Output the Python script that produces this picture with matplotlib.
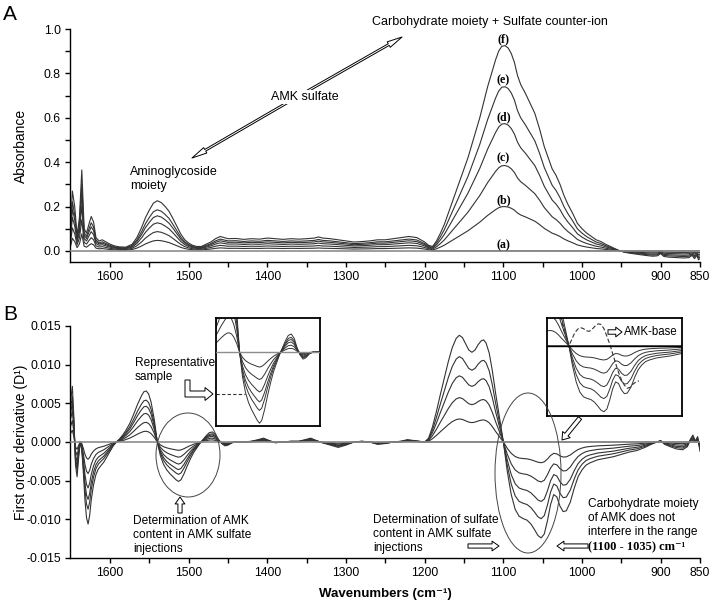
import numpy as np
import matplotlib.pyplot as plt
from matplotlib.patches import Ellipse, FancyArrowPatch, Polygon
from matplotlib.transforms import Affine2D

plt.rcParams['font.family'] = ['Liberation Sans', 'DejaVu Sans']
plt.rcParams['axes.unicode_minus'] = False

# ---- panel A: absorbance, strongest sample ----
# aminoglycoside side (1650 -> 1195 cm-1)
wn_left_a = [1650, 1648, 1645, 1642, 1639, 1636, 1633, 1630, 1627, 1624, 1621, 1618, 1614,
             1610, 1605, 1600, 1594, 1588, 1580, 1572, 1566, 1560, 1555, 1550, 1545, 1540,
             1535, 1530, 1525, 1520, 1515, 1510, 1505, 1500, 1495, 1490, 1484, 1478, 1472,
             1466, 1460, 1455, 1450, 1440, 1430, 1420, 1410, 1400, 1390, 1380, 1370, 1360,
             1350, 1340, 1335, 1330, 1320, 1310, 1300, 1290, 1280, 1270, 1260, 1250, 1240,
             1230, 1220, 1210, 1200, 1195]
abs_left = [0.12, 0.27, 0.20, 0.07, 0.15, 0.365, 0.10, 0.08, 0.12, 0.155, 0.13, 0.06, 0.045,
            0.05, 0.04, 0.03, 0.022, 0.018, 0.017, 0.03, 0.06, 0.105, 0.15, 0.185, 0.215, 0.226,
            0.218, 0.20, 0.178, 0.145, 0.11, 0.075, 0.05, 0.035, 0.025, 0.02, 0.02, 0.03, 0.04,
            0.055, 0.065, 0.06, 0.055, 0.056, 0.052, 0.055, 0.053, 0.058, 0.055, 0.052, 0.055, 0.053,
            0.055, 0.058, 0.063, 0.058, 0.055, 0.05, 0.045, 0.04, 0.042, 0.045, 0.05, 0.05, 0.055,
            0.06, 0.065, 0.06, 0.04, 0.025]
# carbohydrate + sulfate side (1190 -> 850 cm-1)
wn_right_a = [1190, 1185, 1180, 1175, 1170, 1165, 1160, 1155, 1150, 1145, 1140, 1135, 1130,
              1125, 1120, 1115, 1110, 1106, 1102, 1098, 1094, 1090, 1086, 1082, 1078, 1072,
              1066, 1060, 1054, 1048, 1043, 1038, 1033, 1028, 1023, 1018, 1012, 1006, 1000,
              994, 988, 982, 976, 970, 964, 958, 952, 946, 940, 930, 920, 910, 904, 900, 896,
              890, 880, 870, 864, 860, 857, 854, 852, 850]
abs_right = [0.02, 0.045, 0.08, 0.12, 0.17, 0.22, 0.27, 0.32, 0.37, 0.42, 0.48, 0.54, 0.60,
             0.67, 0.74, 0.80, 0.86, 0.90, 0.922, 0.925, 0.915, 0.89, 0.85, 0.79, 0.75, 0.71,
             0.665, 0.62, 0.55, 0.47, 0.42, 0.37, 0.34, 0.30, 0.25, 0.21, 0.17, 0.125, 0.10,
             0.08, 0.065, 0.05, 0.042, 0.03, 0.02, 0.01, 0.0, -0.006, -0.01, -0.015, -0.02, -0.024,
             -0.022, -0.012, -0.025, -0.028, -0.03, -0.032, -0.03, -0.02, -0.035, -0.02, -0.04, -0.035]

# ---- panel B: first derivative, strongest sample ----
wn_left_b = [1650, 1648, 1646, 1644, 1642, 1640, 1638, 1636, 1634, 1632, 1630, 1628, 1626,
             1624, 1621, 1618, 1615, 1612, 1608, 1604, 1600, 1596, 1592, 1588, 1584, 1580,
             1575, 1570, 1565, 1560, 1557, 1554, 1551, 1548, 1544, 1540, 1536, 1532, 1528,
             1524, 1520, 1516, 1513, 1510, 1506, 1502, 1498, 1494, 1490, 1486, 1482, 1478,
             1474, 1470, 1466, 1462, 1458, 1454, 1450, 1445, 1440, 1430, 1420, 1412, 1405,
             1398, 1390, 1380, 1370, 1360, 1352, 1345, 1338, 1330, 1320, 1310, 1300, 1290,
             1280, 1270, 1260, 1250, 1240, 1230, 1222, 1215, 1208, 1200]
d1_left = [0.0055, 0.0072, 0.003, -0.003, -0.0045, -0.002, 0.0, -0.001, -0.004, -0.0075,
           -0.0098, -0.0106, -0.0095, -0.0075, -0.0055, -0.0042, -0.0035, -0.0031, -0.0026,
           -0.0019, -0.0012, -0.0005, 0.0, 0.0004, 0.0009, 0.0015, 0.0024, 0.0036, 0.0049,
           0.006, 0.0065, 0.0066, 0.0062, 0.0052, 0.003, 0.0, -0.0018, -0.0029, -0.0036,
           -0.0041, -0.0045, -0.0049, -0.0051, -0.0049, -0.0041, -0.0031, -0.0022, -0.0014,
           -0.0008, -0.0002, 0.0003, 0.0008, 0.0012, 0.0013, 0.001, 0.0003, -0.0002, -0.0005,
           -0.0004, -0.0001, 0.0, 0.0, 0.0001, 0.0003, 0.0005, 0.0002, -0.0001, 0.0, 0.0001,
           0.0001, 0.0003, 0.0005, 0.0002, -0.0001, -0.0004, -0.0007, -0.0004, 0.0, 0.0001,
           0.0, -0.0003, -0.0002, 0.0, 0.0001, 0.0003, 0.0002, 0.0001, 0.0]
wn_right_b = [1195, 1190, 1185, 1180, 1175, 1170, 1165, 1160, 1156, 1152, 1148, 1144, 1140,
              1136, 1132, 1128, 1125, 1122, 1118, 1114, 1110, 1105, 1100, 1095, 1090, 1085,
              1080, 1075, 1070, 1065, 1060, 1056, 1052, 1048, 1044, 1040, 1036, 1032, 1028,
              1024, 1020, 1015, 1010, 1005, 1000, 995, 990, 980, 970, 960, 950, 940, 930, 920,
              912, 905, 900, 895, 888, 880, 872, 866, 862, 859, 856, 853, 850]
d1_right = [0.0005, 0.002, 0.004, 0.0062, 0.0083, 0.0104, 0.0122, 0.0134, 0.0138, 0.0135,
            0.0127, 0.0119, 0.0116, 0.0119, 0.0126, 0.0131, 0.0132, 0.0128, 0.0115, 0.0092,
            0.0064, 0.0032, 0.0, -0.0038, -0.0068, -0.0087, -0.0096, -0.0099, -0.0101, -0.0106,
            -0.0114, -0.0121, -0.0124, -0.0119, -0.0102, -0.0081, -0.0068, -0.0071, -0.0083,
            -0.009, -0.0089, -0.0078, -0.006, -0.0045, -0.0036, -0.003, -0.0027, -0.0023,
            -0.0021, -0.0019, -0.0016, -0.0013, -0.0011, -0.0007, -0.0003, 0.0, 0.0002, -0.0003,
            -0.0006, -0.0009, -0.001, -0.0006, 0.0004, 0.0009, 0.0001, 0.0007, -0.0012]

# AMK-base derivative (dashed, right inset)
amk_base_wn = [1112, 1106, 1100, 1096, 1092, 1088, 1084, 1080, 1076, 1072, 1068, 1064, 1060,
               1056, 1052, 1048, 1044, 1040, 1036, 1032, 1028, 1024, 1020, 1016, 1012, 1008, 1004]
amk_base_d1 = [0.0056, 0.0025, 0.0, 0.0012, 0.0024, 0.0031, 0.0034, 0.0032, 0.0028, 0.0027,
               0.0031, 0.0037, 0.0041, 0.004, 0.0032, 0.0018, 0.0003, -0.0015, -0.0033, -0.005,
               -0.0064, -0.0074, -0.008, -0.0078, -0.0072, -0.0068, -0.0066]

# relative level of each sample: (a) flat baseline, then increasing AMK sulfate
amide_amp = [0, 0.21, 0.385, 0.56, 0.70, 0.82, 1.0]
sulfate_amp = [0, 0, 0.216, 0.416, 0.62, 0.80, 1.0]
peak_labels = ['(a)', '(b)', '(c)', '(d)', '(e)', '(f)']
peak_label_y = [0.027, 0.230, 0.417, 0.601, 0.771, 0.954]

xticks = list(range(1600, 849, -50))
xticklabels = [str(t) if t % 100 == 0 or t == 850 else '' for t in xticks]

W, H = 714, 605
fig = plt.figure(figsize=(W / 100, H / 100), dpi=100)
px = Affine2D().scale(1 / W, -1 / H).translate(0, 1) + fig.transFigure


def axes_px(l, t, r, b):
    return fig.add_axes([l / W, 1 - b / H, (r - l) / W, (b - t) / H])


def spectra(left, right, i):
    return np.concatenate([amide_amp[i] * np.array(left), sulfate_amp[i] * np.array(right)])


wn_a = np.array(wn_left_a + wn_right_a)
wn_b = np.array(wn_left_b + wn_right_b)


def draw_curves(ax, wn, left, right, lw=0.8, base_color='#8c8c8c', base_lw=1.2):
    for i in range(1, len(amide_amp)):
        ax.plot(wn, spectra(left, right, i), color='#333333', lw=lw)
    ax.plot(wn, spectra(left, right, 0), color=base_color, lw=base_lw, zorder=3)


def style_main(ax):
    for s in ['top', 'right']:
        ax.spines[s].set_visible(False)
    for s in ['left', 'bottom']:
        ax.spines[s].set_linewidth(1.0)
    ax.set_xlim(1651, 850)
    ax.set_xticks(xticks)
    ax.set_xticklabels(xticklabels)
    ax.tick_params(direction='out', length=3.5, width=1, labelsize=8.8, pad=3)
    ax.tick_params(which='minor', direction='out', length=3.5, width=1)
    ax.yaxis.set_label_coords(-0.066, 0.5)


# ---- A ----
ax_a = axes_px(70, 29, 700, 262)
draw_curves(ax_a, wn_a, abs_left, abs_right)
style_main(ax_a)
ax_a.set_ylim(-0.05, 1.0)
ax_a.set_yticks(np.arange(0, 1.01, 0.2))
ax_a.set_yticks(np.arange(0.1, 1.0, 0.2), minor=True)
ax_a.set_yticklabels(['%.1f' % v for v in np.arange(0, 1.01, 0.2)])
ax_a.set_ylabel('Absorbance', fontsize=10)
for lab, y in zip(peak_labels, peak_label_y):
    ax_a.text(1100, y, lab, ha='center', va='center', fontsize=8.6,
              family=['Liberation Serif', 'DejaVu Serif'], weight='bold')

# ---- B ----
ax_b = axes_px(70, 326, 700, 558)
draw_curves(ax_b, wn_b, d1_left, d1_right)
style_main(ax_b)
ax_b.set_ylim(-0.015, 0.015)
ax_b.set_yticks(np.arange(-0.015, 0.0151, 0.005))
ax_b.set_yticklabels(['%.3f' % v if abs(v) > 1e-9 else '0.000'
                      for v in np.arange(-0.015, 0.0151, 0.005)])
ax_b.set_ylabel('First order derivative (D\u00b9)', fontsize=10)
ax_b.set_xlabel('Wavenumbers (cm\u207b\u00b9)', fontsize=9.5, weight='bold')
ax_b.xaxis.set_label_coords(0.5, -0.13)

# ---- insets ----
ax_i1 = axes_px(216, 318, 320, 426)
draw_curves(ax_i1, wn_b, d1_left, d1_right, lw=0.7, base_color='#8c8c8c', base_lw=1.0)
ax_i1.set_xlim(1572, 1431)
ax_i1.set_ylim(-0.0053, 0.00245)
ax_i1.axhline(-0.003, xmin=0, xmax=0.28, color='#333333', lw=0.8, ls=(0, (3, 2)))

ax_i2 = axes_px(547, 318, 682, 416)
draw_curves(ax_i2, wn_b, d1_left, d1_right, lw=0.7, base_color='black', base_lw=1.0)
ax_i2.plot(amk_base_wn, amk_base_d1, color='#333333', lw=0.8, ls=(0, (4, 2)))
ax_i2.set_xlim(1130, 945)
ax_i2.set_ylim(-0.0132, 0.0052)

for ax in (ax_i1, ax_i2):
    ax.set_xticks([])
    ax.set_yticks([])
    for s in ax.spines.values():
        s.set_linewidth(1.3)


# ---- annotations (reference pixel coordinates) ----
def hollow_arrow(p0, p1, style):
    fig.add_artist(FancyArrowPatch(p0, p1, transform=px, arrowstyle=style, fc='white',
                                   ec='black', lw=0.7, shrinkA=0, shrinkB=0, mutation_scale=1))


def note(x, y, s, **kw):
    kw.setdefault('fontsize', 8.6)
    kw.setdefault('va', 'center')
    return fig.text(x, y, s, transform=px, **kw)


long_style = 'simple,head_length=11,head_width=4.5,tail_width=1.4'
hollow_arrow((297, 97), (192, 158), long_style)
hollow_arrow((297, 97), (402, 37), long_style)
dbl = 'simple,head_length=5,head_width=7,tail_width=3'
hollow_arrow((180, 513), (180, 497), dbl)
hollow_arrow((468, 546), (499, 546), dbl)
hollow_arrow((588, 546), (557, 546), dbl)
hollow_arrow((580, 418), (562, 440), dbl)
hollow_arrow((608, 332), (622, 332), 'simple,head_length=4.5,head_width=7,tail_width=3.2')
fig.add_artist(Polygon([(185, 380), (185, 397), (205, 397), (205, 400.5), (213, 394),
                        (205, 387.5), (205, 391), (190, 391), (190, 380)],
                       closed=True, fc='white', ec='black', lw=0.7, transform=px))

fig.add_artist(Ellipse((188, 455), 64, 84, transform=px, fill=False, ec='#444444', lw=0.7))
fig.add_artist(Ellipse((528, 473), 66, 160, transform=px, fill=False, ec='#444444', lw=0.7))

note(372, 22, 'Carbohydrate moiety + Sulfate counter-ion', fontsize=9)
note(305, 97, 'AMK sulfate', ha='center', fontsize=9,
     bbox=dict(fc='white', ec='none', pad=0.5))
note(130, 179, 'Aminoglycoside\nmoiety', fontsize=9)
note(135, 370, 'Representative\nsample')
note(133, 535, 'Determination of AMK\ncontent in AMK sulfate\ninjections')
note(373, 534, 'Determination of sulfate\ncontent in AMK sulfate\ninjections')
note(588, 518, 'Carbohydrate moiety\nof AMK does not\ninterfere in the range')
note(588, 547, '(1100 - 1035) cm\u207b\u00b9', family=['Liberation Serif', 'DejaVu Serif'],
     weight='bold', fontsize=9)
note(624, 332, 'AMK-base', fontsize=8.3)
note(3, 14, 'A', fontsize=15)
note(3, 314, 'B', fontsize=15)

fig.savefig('out.png', dpi=100)
